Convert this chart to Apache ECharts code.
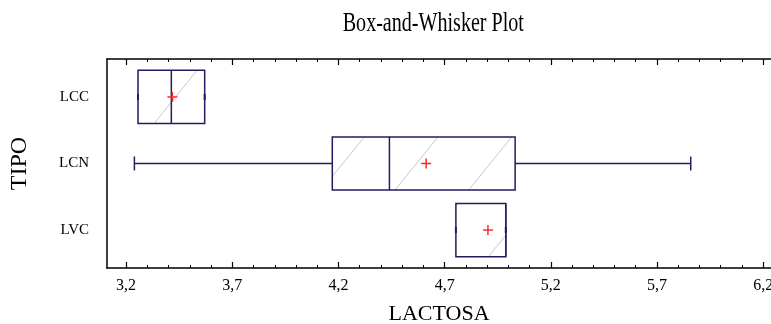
<!DOCTYPE html>
<html>
<head>
<meta charset="utf-8">
<script src="https://cdn.jsdelivr.net/npm/echarts@6/dist/echarts.min.js"></script>
<style>
  html, body { margin: 0; padding: 0; background: #fff; }
  #chart { width: 771px; height: 324px; }
</style>
</head>
<body>
<div id="chart"></div>
<script>
// Groups (top to bottom) and their five-number summaries plus mean
const categories = ['LCC', 'LCN', 'LVC'];
const whiskerLow = [3.256, 3.239, 4.753];
const q1 = [3.256, 4.171, 4.753];
const median = [3.413, 4.440, 4.988];
const q3 = [3.570, 5.032, 4.988];
const whiskerHigh = [3.570, 5.859, 4.988];
const means = [3.418, 4.613, 4.904];

// Axis ticks
const majorTicks = [3.2, 3.7, 4.2, 4.7, 5.2, 5.7, 6.2];
const minorTicks = [3.2, 3.3, 3.4, 3.5, 3.6, 3.7, 3.8, 3.9, 4.0, 4.1, 4.2, 4.3, 4.4, 4.5,
  4.6, 4.7, 4.8, 4.9, 5.0, 5.1, 5.2, 5.3, 5.4, 5.5, 5.6, 5.7, 5.8, 5.9, 6.0, 6.1, 6.2];
const xMin = 3.11, xMax = 6.237;
const yMin = 0.43, yMax = 3.57;

const FONT = '"Liberation Serif", "Times New Roman", serif';
const NAVY = '#1e1e60';

const boxData = categories.map((c, i) =>
  [i + 1, whiskerLow[i], q1[i], median[i], q3[i], whiskerHigh[i], means[i]]);

// diagonal hatch inside a rectangle: lines x + K*y = c, c = PHASE (mod PERIOD)
const K = 0.81, PERIOD = 73.7, PHASE = 33;
function hatchLines(x0, y0, x1, y1) {
  const out = [];
  const cMin = x0 + K * y0, cMax = x1 + K * y1;
  let c = Math.ceil((cMin - PHASE) / PERIOD) * PERIOD + PHASE;
  for (; c <= cMax; c += PERIOD) {
    const pts = [];
    [y0, y1].forEach(y => { const x = c - K * y; if (x >= x0 && x <= x1) pts.push([x, y]); });
    [x0, x1].forEach(x => { const y = (c - x) / K; if (y > y0 && y < y1) pts.push([x, y]); });
    if (pts.length >= 2) {
      out.push({
        type: 'line', silent: true,
        shape: { x1: pts[0][0], y1: pts[0][1], x2: pts[1][0], y2: pts[1][1] },
        style: { stroke: '#c8c8c8', lineWidth: 1 }
      });
    }
  }
  return out;
}

function renderBox(params, api) {
  const cy = api.value(0);
  const half = 0.4;
  const pLow = api.coord([api.value(1), cy]);
  const pQ1 = api.coord([api.value(2), cy - half]);
  const pMed = api.coord([api.value(3), cy]);
  const pQ3 = api.coord([api.value(4), cy + half]);
  const pHigh = api.coord([api.value(5), cy]);
  const pMean = api.coord([api.value(6), cy]);
  const top = Math.min(pQ1[1], pQ3[1]), bottom = Math.max(pQ1[1], pQ3[1]);
  const left = pQ1[0], right = pQ3[0];
  const mid = pMed[1];
  const children = [];
  children.push({ type: 'rect', shape: { x: left, y: top, width: right - left, height: bottom - top },
    style: { fill: '#fff', stroke: 'none' } });
  hatchLines(left, top, right, bottom).forEach(l => children.push(l));
  children.push({ type: 'rect', shape: { x: left, y: top, width: right - left, height: bottom - top },
    style: { fill: 'none', stroke: NAVY, lineWidth: 1.5 } });
  children.push({ type: 'line', shape: { x1: pMed[0], y1: top, x2: pMed[0], y2: bottom },
    style: { stroke: NAVY, lineWidth: 1.5 } });
  // whiskers and end caps
  [[pLow[0], left], [pHigh[0], right]].forEach(([end, edge]) => {
    if (Math.abs(end - edge) > 0.5) {
      children.push({ type: 'line', shape: { x1: edge, y1: mid, x2: end, y2: mid },
        style: { stroke: NAVY, lineWidth: 1.5 } });
      children.push({ type: 'line', shape: { x1: end, y1: mid - 7, x2: end, y2: mid + 7 },
        style: { stroke: NAVY, lineWidth: 1.5 } });
    } else {
      children.push({ type: 'line', shape: { x1: end, y1: mid - 3, x2: end, y2: mid + 3 },
        style: { stroke: NAVY, lineWidth: 2 } });
    }
  });
  // mean marker
  children.push({ type: 'line', shape: { x1: pMean[0] - 5, y1: pMean[1], x2: pMean[0] + 5, y2: pMean[1] },
    style: { stroke: '#ff2a2a', lineWidth: 1.5 } });
  children.push({ type: 'line', shape: { x1: pMean[0], y1: pMean[1] - 5, x2: pMean[0], y2: pMean[1] + 5 },
    style: { stroke: '#ff2a2a', lineWidth: 1.5 } });
  return { type: 'group', children };
}

const fmt = v => v.toFixed(1).replace('.', ',');
const gridRect = { left: 107, top: 59, right: 0, bottom: 56, containLabel: false, outerBoundsMode: 'none' };

const chart = echarts.init(document.getElementById('chart'), null, { renderer: 'canvas' });
chart.setOption({
  animation: false,
  backgroundColor: '#fff',
  // condensed serif title
  graphic: [{
    type: 'text', x: 342.7, y: 24, scaleX: 0.717, silent: true,
    style: { text: 'Box-and-Whisker Plot', font: '28px ' + FONT, fill: '#000',
      align: 'left', verticalAlign: 'middle' }
  }],
  grid: [Object.assign({}, gridRect), Object.assign({}, gridRect)],
  xAxis: [
    {
      gridIndex: 0, type: 'value', position: 'bottom', min: xMin, max: xMax,
      name: 'LACTOSA', nameLocation: 'middle', nameGap: 35,
      nameTextStyle: { fontFamily: FONT, fontSize: 22, color: '#000' },
      axisLine: { lineStyle: { color: '#000', width: 1.5 } },
      axisTick: { inside: true, length: 6, customValues: majorTicks, lineStyle: { color: '#000', width: 1.2 } },
      axisLabel: { customValues: majorTicks, formatter: fmt, margin: 10,
        fontFamily: FONT, fontSize: 16, color: '#000' },
      splitLine: { show: false }
    },
    {
      gridIndex: 0, type: 'value', position: 'top', min: xMin, max: xMax,
      axisLine: { lineStyle: { color: '#000', width: 1.5 } },
      axisTick: { inside: true, length: 6, customValues: majorTicks, lineStyle: { color: '#000', width: 1.2 } },
      axisLabel: { show: false },
      splitLine: { show: false }
    },
    {
      gridIndex: 1, type: 'value', position: 'bottom', min: xMin, max: xMax,
      axisLine: { show: false },
      axisTick: { inside: true, length: 3, customValues: minorTicks, lineStyle: { color: '#000', width: 1 } },
      axisLabel: { show: false },
      splitLine: { show: false }
    },
    {
      gridIndex: 1, type: 'value', position: 'top', min: xMin, max: xMax,
      axisLine: { show: false },
      axisTick: { inside: true, length: 3, customValues: minorTicks, lineStyle: { color: '#000', width: 1 } },
      axisLabel: { show: false },
      splitLine: { show: false }
    }
  ],
  yAxis: [
    {
      gridIndex: 0, type: 'value', inverse: true, min: yMin, max: yMax,
      name: 'TIPO', nameLocation: 'middle', nameGap: 75, nameRotate: 90,
      nameTextStyle: { fontFamily: FONT, fontSize: 24, color: '#000' },
      axisLine: { show: true, lineStyle: { color: '#000', width: 1.5 } },
      axisTick: { show: false },
      axisLabel: { customValues: [1, 2, 3], formatter: v => categories[Math.round(v) - 1],
        margin: 18, fontFamily: FONT, fontSize: 15, color: '#000' },
      splitLine: { show: false }
    },
    {
      gridIndex: 1, type: 'value', inverse: true, min: yMin, max: yMax, show: false
    }
  ],
  series: [
    {
      type: 'custom',
      xAxisIndex: 0, yAxisIndex: 0,
      renderItem: renderBox,
      encode: { x: [1, 2, 3, 4, 5, 6], y: 0 },
      data: boxData,
      clip: false
    }
  ]
});
</script>
</body>
</html>
